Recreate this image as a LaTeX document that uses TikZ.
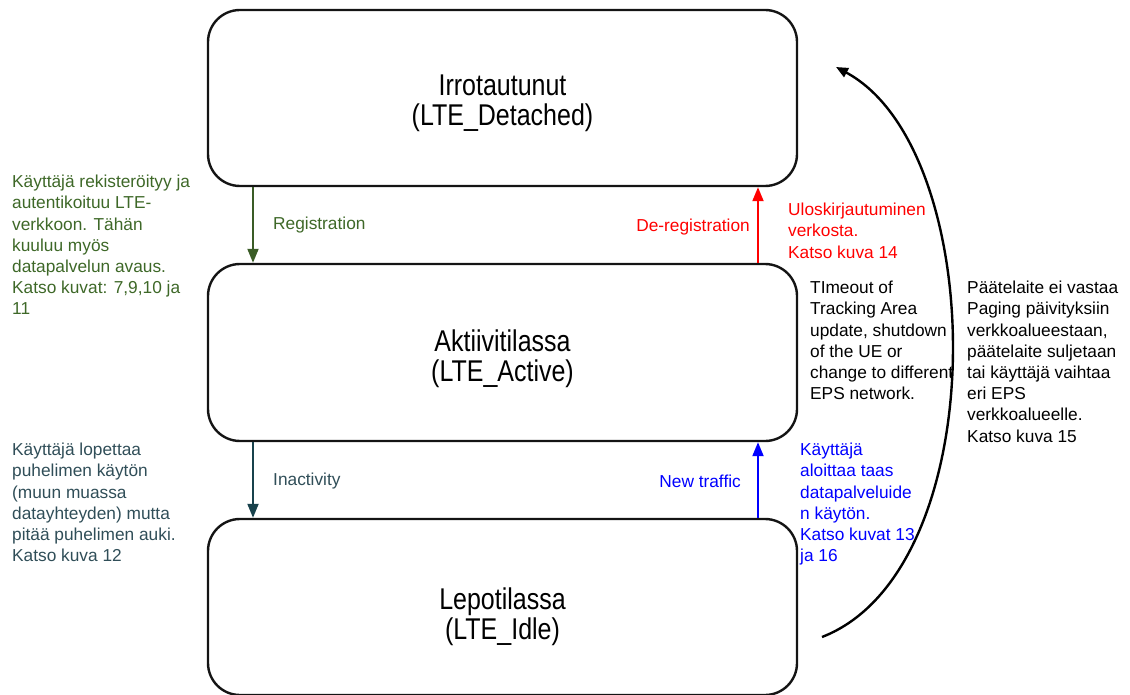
\documentclass[tikz,border=0pt]{standalone}
\usepackage{fontspec}
\setmainfont{Liberation Sans}
\usetikzlibrary{arrows.meta}
\definecolor{regtext}{RGB}{62,104,40}
\definecolor{regline}{RGB}{58,92,38}
\definecolor{inatext}{RGB}{48,78,88}
\definecolor{inaline}{RGB}{24,66,76}
\definecolor{boxline}{RGB}{20,20,20}
\tikzset{
  state/.style={draw=boxline, line width=2.4pt, rounded corners=32pt,
    minimum width=589pt, inner sep=0pt},
  statelbl/.style={inner sep=0pt, align=center,
    font=\fontsize{25}{30}\selectfont},
  note/.style={anchor=north west, inner sep=0pt, align=left,
    font=\fontsize{17.3}{21.2}\selectfont},
  edgelbl/.style={inner sep=0pt, font=\fontsize{17.3}{21.2}\selectfont},
  trans/.style={line width=2pt, -{Triangle[length=14pt,width=11pt]}},
}
\newcommand{\statetext}[2]{\scalebox{1}[1.2]{\begin{tabular}{@{}c@{}}#1\\[-5pt]#2\end{tabular}}}
\begin{document}
\begin{tikzpicture}[x=1pt,y=-1pt]
\useasboundingbox (0,0) rectangle (1130,695);
\clip (0,0) rectangle (1130,695);

% the three states
\node[state, minimum height=176pt] (detached) at (502.5,98) {};
\node[state, minimum height=177pt] (active) at (502.5,352.5) {};
\node[state, minimum height=176pt] (idle) at (502.5,607) {};
\node[statelbl] (detachedlbl) at ([yshift=-5pt]detached.center)
  {\statetext{Irrotautunut}{(LTE\_Detached)}};
\node[statelbl] (activelbl) at ([yshift=-7pt]active.center)
  {\statetext{Aktiivitilassa}{(LTE\_Active)}};
\node[statelbl] (idlelbl) at ([yshift=-10pt]idle.center)
  {\statetext{Lepotilassa}{(LTE\_Idle)}};

% columns of the vertical transitions
\coordinate (lx) at (253,0);
\coordinate (rx) at (758,0);

% transitions
\draw[trans, regline] (detached.south -| lx) -- (active.north -| lx);
\draw[trans, red] (active.north -| rx) -- (detached.south -| rx);
\draw[trans, inaline] (active.south -| lx) -- (idle.north -| lx);
\draw[trans, blue] (idle.north -| rx) -- (active.south -| rx);

% transition labels
\node[edgelbl, anchor=west, text=regtext] (lreg) at (273,225) {Registration};
\node[edgelbl, anchor=east, text=red] (ldereg) at (750,227) {De-registration};
\node[edgelbl, anchor=west, text=inatext] (linact) at (273,481) {Inactivity};
\node[edgelbl, anchor=east, text=blue] (lnew) at (741,481) {New traffic};

% curved transition from idle back to detached
\coordinate (cstart) at (822,637);
\coordinate (cend) at (836,67);
\draw[line width=2.4pt, -{Triangle[length=12pt,width=10pt]}]
  (cstart) .. controls (995,570) and (990,150) .. (cend);

% explanatory notes
\node[note, text=regtext] (nreg) at (12,175)
  {Käyttäjä rekisteröityy ja\\autentikoituu LTE-\\verkkoon. Tähän\\kuuluu myös\\datapalvelun avaus.\\Katso kuvat: 7,9,10 ja\\11};
\node[note, text=inatext] (ninact) at (12,443)
  {Käyttäjä lopettaa\\puhelimen käytön\\(muun muassa\\datayhteyden) mutta\\pitää puhelimen auki.\\Katso kuva 12};
\node[note, text=red] (ndereg) at (788,203)
  {Uloskirjautuminen\\verkosta.\\Katso kuva 14};
\node[note] (ntimeout) at (810,281)
  {TImeout of\\Tracking Area\\update, shutdown\\of the UE or\\change to different\\EPS network.};
\node[note, text=blue] (nnew) at (800,443)
  {Käyttäjä\\aloittaa taas\\datapalveluide\\n käytön.\\Katso kuvat 13\\ja 16};
\node[note] (npaging) at (967,281)
  {Päätelaite ei vastaa\\Paging päivityksiin\\verkkoalueestaan,\\päätelaite suljetaan\\tai käyttäjä vaihtaa\\eri EPS\\verkkoalueelle.\\Katso kuva 15};
\end{tikzpicture}
\end{document}
